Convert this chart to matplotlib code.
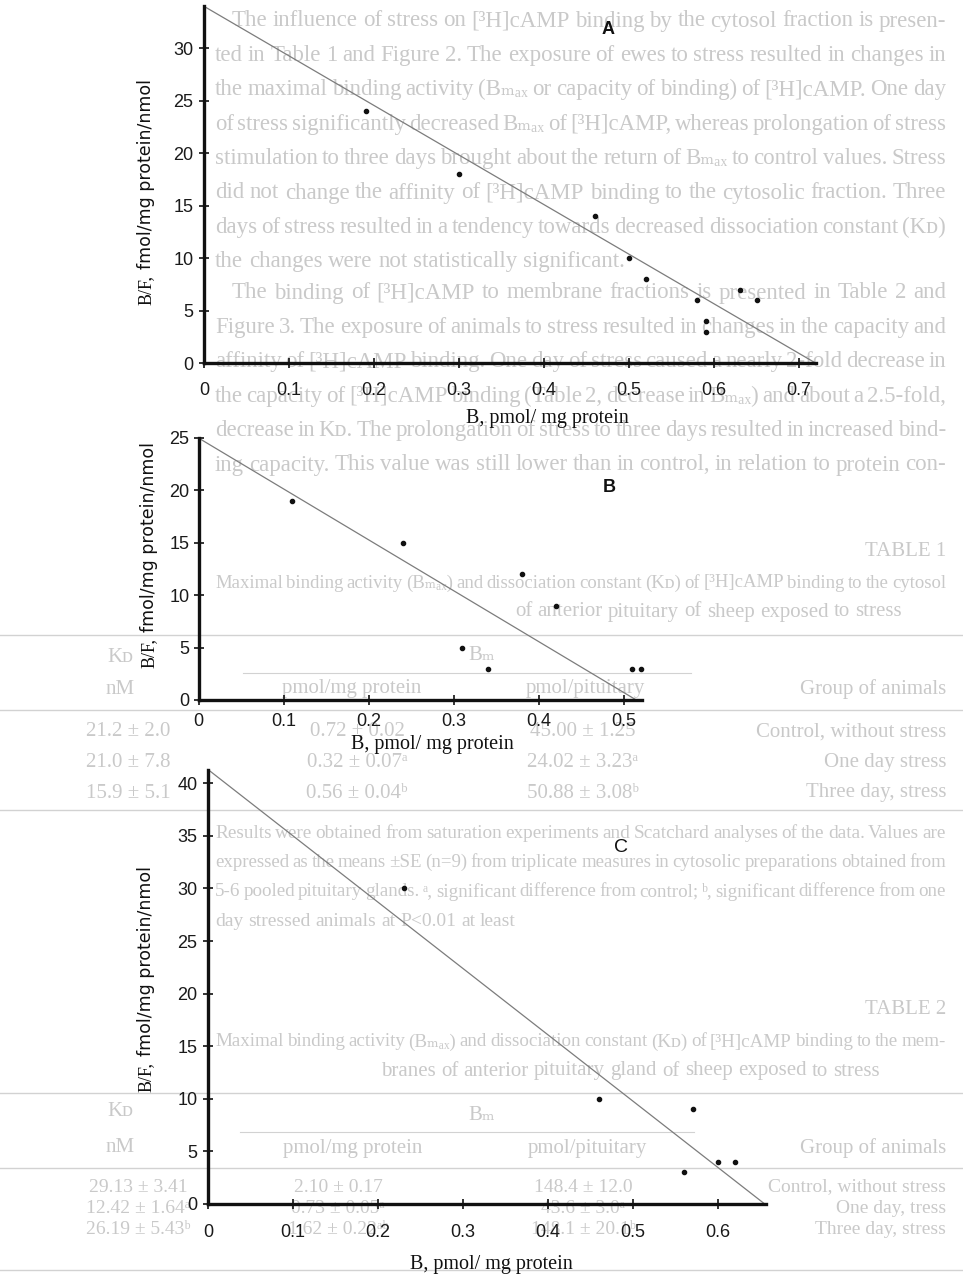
import matplotlib
matplotlib.use("Agg")
import matplotlib.pyplot as plt
from matplotlib.font_manager import FontProperties
from matplotlib.lines import Line2D

W, H = 963, 1280
SERIF = ['Liberation Serif', 'DejaVu Serif']
SANS = ['Liberation Sans', 'DejaVu Sans']
BG = '#c9c9c9'

# ---------------- data ----------------
# Panel A
A_B = [0.19, 0.30, 0.46, 0.50, 0.52, 0.58, 0.59, 0.59, 0.63, 0.65]
A_BF = [24, 18, 14, 10, 8, 6, 4, 3, 7, 6]
A_fit = (34.0, 0.72)          # (B/F intercept, Bmax)
A_xticks = [0, 0.1, 0.2, 0.3, 0.4, 0.5, 0.6, 0.7]
A_yticks = [0, 5, 10, 15, 20, 25, 30]
# Panel B
B_B = [0.11, 0.24, 0.31, 0.34, 0.38, 0.42, 0.51, 0.52]
B_BF = [19, 15, 5, 3, 12, 9, 3, 3]
B_fit = (25.0, 0.515)
B_xticks = [0, 0.1, 0.2, 0.3, 0.4, 0.5]
B_yticks = [0, 5, 10, 15, 20, 25]
# Panel C
C_B = [0.23, 0.46, 0.56, 0.57, 0.60, 0.62]
C_BF = [30, 10, 3, 9, 4, 4]
C_fit = (41.3, 0.655)
C_xticks = [0, 0.1, 0.2, 0.3, 0.4, 0.5, 0.6]
C_yticks = [0, 5, 10, 15, 20, 25, 30, 35, 40]

X_LABEL = "B, pmol/ mg protein"

# faded page text behind the figure
PARA1 = [
    "The influence of stress on [\u00b3H]cAMP binding by the cytosol fraction is presen-",
    "ted in Table 1 and Figure 2. The exposure of ewes to stress resulted in changes in",
    "the maximal binding activity (B\u2098\u2090\u2093 or capacity of binding) of [\u00b3H]cAMP. One day",
    "of stress significantly decreased B\u2098\u2090\u2093 of [\u00b3H]cAMP, whereas prolongation of stress",
    "stimulation to three days brought about the return of B\u2098\u2090\u2093 to control values. Stress",
    "did not change the affinity of [\u00b3H]cAMP binding to the cytosolic fraction. Three",
    "days of stress resulted in a tendency towards decreased dissociation constant (K\u1d05)",
    "the changes were not statistically significant.",
]
PARA2 = [
    "The binding of [\u00b3H]cAMP to membrane fractions is presented in Table 2 and",
    "Figure 3. The exposure of animals to stress resulted in changes in the capacity and",
    "affinity of [\u00b3H]cAMP binding. One day of stress caused a nearly 2-fold decrease in",
    "the capacity of [\u00b3H]cAMP binding (Table 2, decrease in B\u2098\u2090\u2093) and about a 2.5-fold,",
    "decrease in K\u1d05. The prolongation of stress to three days resulted in increased bind-",
    "ing capacity. This value was still lower than in control, in relation to protein con-",
]
T1_CAPTION = [
    "Maximal binding activity (B\u2098\u2090\u2093) and dissociation constant (K\u1d05) of [\u00b3H]cAMP binding to the cytosol",
    "of anterior pituitary of sheep exposed to stress",
]
T1_ROWS = ["Control, without stress", "One day stress", "Three day, stress"]
T1_PIT = ["45.00 \u00b1 1.25", "24.02 \u00b1 3.23\u1d43", "50.88 \u00b1 3.08\u1d47"]
T1_PROT = ["0.72 \u00b1 0.02", "0.32 \u00b1 0.07\u1d43", "0.56 \u00b1 0.04\u1d47"]
T1_KD = ["21.2 \u00b1 2.0", "21.0 \u00b1 7.8", "15.9 \u00b1 5.1"]
NOTES = [
    "Results were obtained from saturation experiments and Scatchard analyses of the data. Values are",
    "expressed as the means \u00b1SE (n=9) from triplicate measures in cytosolic preparations obtained from",
    "5-6 pooled pituitary glands. \u1d43, significant difference from control; \u1d47, significant difference from one",
    "day stressed animals at P<0.01 at least",
]
T2_CAPTION = [
    "Maximal binding activity (B\u2098\u2090\u2093) and dissociation constant (K\u1d05) of [\u00b3H]cAMP binding to the mem-",
    "branes of anterior pituitary gland of sheep exposed to stress",
]
T2_ROWS = ["Control, without stress", "One day, tress", "Three day, stress"]
T2_PIT = ["148.4 \u00b1 12.0", "43.6 \u00b1 3.0\u1d43", "148.1 \u00b1 20.1\u1d47"]
T2_PROT = ["2.10 \u00b1 0.17", "0.73 \u00b1 0.05\u1d43", "1.62 \u00b1 0.22\u1d43\u1d47"]
T2_KD = ["29.13 \u00b1 3.41", "12.42 \u00b1 1.64\u1d43", "26.19 \u00b1 5.43\u1d47"]

# ---------------- figure ----------------
fig = plt.figure(figsize=(W / 100, H / 100), dpi=100)
fig.patch.set_facecolor('white')
renderer = fig.canvas.get_renderer()


def fx(x):
    return x / W


def fy(y):
    return 1 - y / H


def measure(s, size, family=SERIF):
    fp = FontProperties(family=family, size=size)
    w, h, d = renderer.get_text_width_height_descent(s, fp, ismath=False)
    return w


def put_line(text, y, x0, x1, size=16.5, justify=True, align='left', color=BG):
    words = text.split(' ')
    widths = [measure(w, size) for w in words]
    space = measure('a a', size) - measure('aa', size)
    n = len(words)
    if justify and n > 1:
        gap = (x1 - x0 - sum(widths)) / (n - 1)
        if gap < 0.6 * space:
            size = size * (x1 - x0 - 0.6 * space * (n - 1)) / sum(widths)
            widths = [measure(w, size) for w in words]
            gap = (x1 - x0 - sum(widths)) / (n - 1)
    else:
        gap = space
    total = sum(widths) + gap * (n - 1)
    if align == 'right':
        x = x1 - total
    elif align == 'center':
        x = (x0 + x1) / 2 - total / 2
    else:
        x = x0
    for w, wd in zip(words, widths):
        fig.text(fx(x), fy(y), w, family=SERIF, fontsize=size, color=color,
                 ha='left', va='center', zorder=-2)
        x += wd + gap


def put(text, x, y, ha='left', size=15):
    fig.text(fx(x), fy(y), text, family=SERIF, fontsize=size, color=BG,
             ha=ha, va='center', zorder=-2)


def rule(y, x0=0, x1=W, lw=1.0):
    fig.add_artist(Line2D([fx(x0), fx(x1)], [fy(y), fy(y)], transform=fig.transFigure,
                          color='#d2d2d2', lw=lw, zorder=-2))


# paragraph 1
for i, line in enumerate(PARA1):
    y = 21 + 34.4 * i
    last = i == len(PARA1) - 1
    put_line(line, y, 232 if i == 0 else 215, 946, justify=not last)
for i, line in enumerate(PARA2):
    y = 293 + 34.4 * i
    put_line(line, y, 232 if i == 0 else 215, 946)

# table 1
put("TABLE 1", 946, 552, ha='right')
put_line(T1_CAPTION[0], 583, 215, 946, size=15)
put_line(T1_CAPTION[1], 612, 515, 946, size=15, justify=False)
rule(635)
put("K\u1d05", 120, 657, ha='center')
put("B\u2098", 482, 655, ha='center')
rule(673, 243, 691, lw=0.8)
put("Group of animals", 946, 689, ha='right')
put("pmol/pituitary", 585, 689, ha='center')
put("pmol/mg protein", 352, 689, ha='center')
put("nM", 120, 689, ha='center')
rule(710)
for i in range(3):
    y = 732 + 30.5 * i
    put(T1_ROWS[i], 946, y, ha='right')
    put(T1_PIT[i], 583, y, ha='center')
    put(T1_PROT[i], 357, y, ha='center')
    put(T1_KD[i], 128, y, ha='center')
rule(810)
for i, line in enumerate(NOTES):
    y = 833 + 29.5 * i
    put_line(line, y, 215, 946, size=14, justify=(i < 3))

# table 2
put("TABLE 2", 946, 1010, ha='right')
put_line(T2_CAPTION[0], 1042, 215, 946, size=15)
put_line(T2_CAPTION[1], 1071, 381, 946, size=15, justify=False)
rule(1093)
put("K\u1d05", 120, 1112, ha='center')
put("B\u2098", 482, 1115, ha='center')
rule(1132, 240, 694, lw=0.8)
put("Group of animals", 946, 1148, ha='right')
put("pmol/pituitary", 587, 1148, ha='center')
put("pmol/mg protein", 353, 1148, ha='center')
put("nM", 120, 1148, ha='center')
rule(1168)
for i in range(3):
    y = 1187 + 21.5 * i
    put(T2_ROWS[i], 946, y, ha='right', size=14)
    put(T2_PIT[i], 583, y, ha='center', size=14)
    put(T2_PROT[i], 338, y, ha='center', size=14)
    put(T2_KD[i], 138, y, ha='center', size=14)
rule(1270)


# ---------------- panels ----------------
def fmt(v):
    return "0" if v == 0 else ("%g" % v)


def panel(L, Bt, xscale, yscale, xmax, ymax, xticks, yticks, bx, bf, fit,
          xpad, ypad, letter, lpos, lbold, lsize, ylab, xlab):
    R = L + xmax * xscale
    T = Bt - ymax * yscale
    ax = fig.add_axes([fx(L), fy(Bt), (R - L) / W, (Bt - T) / H])
    ax.patch.set_alpha(0)
    ax.set_xlim(0, xmax)
    ax.set_ylim(0, ymax)
    for s in ('top', 'right'):
        ax.spines[s].set_visible(False)
    for s in ('left', 'bottom'):
        ax.spines[s].set_linewidth(2.4)
        ax.spines[s].set_color('#111111')
    ax.set_xticks(xticks)
    ax.set_xticklabels([fmt(v) for v in xticks])
    ax.set_yticks(yticks)
    ax.set_yticklabels([fmt(v) for v in yticks])
    ax.tick_params(direction='inout', length=7, width=1.2, color='#111111',
                   labelsize=13, labelcolor='#1a1a1a')
    ax.tick_params(axis='x', pad=xpad)
    ax.tick_params(axis='y', pad=ypad)
    for lab in ax.get_xticklabels() + ax.get_yticklabels():
        lab.set_family(SANS)
    b0, bmax = fit
    ax.plot([0, bmax], [b0, 0], color='#7c7c7c', lw=0.9, clip_on=False)
    ax.plot(bx, bf, 'o', ms=3.0, color='#111111', clip_on=False)
    # panel letter
    fig.text(fx(lpos[0]), fy(lpos[1]), letter, family=SANS, fontsize=lsize,
             fontweight='bold' if lbold else 'normal', ha='center', va='center',
             color='#111111')
    # y label (serif "B/F," + sans remainder), reading bottom to top
    xc, ybot = ylab
    xb = xc + 5
    fig.text(fx(xb), fy(ybot), "B/F,", family=SERIF, fontsize=13, rotation=90,
             rotation_mode='anchor', ha='left', va='baseline', color='#111111')
    w1 = measure("B/F,", 13)
    fig.text(fx(xb), fy(ybot - w1 - 6), "fmol/mg protein/nmol", family=['DejaVu Sans'],
             fontsize=12.5, rotation=90, rotation_mode='anchor', ha='left',
             va='baseline', color='#111111')
    # x label
    fig.text(fx(xlab[0]), fy(xlab[1]), X_LABEL, family=SERIF, fontsize=14.5,
             ha='center', va='center', color='#111111')
    return ax


panel(204, 363.3, 850, 10.5, 0.72, 34.0, A_xticks, A_yticks, A_B, A_BF, A_fit,
      xpad=10, ypad=4, letter='A', lpos=(608, 30), lbold=True, lsize=13,
      ylab=(146, 305), xlab=(547, 418))
panel(198.5, 700, 850, 10.48, 0.522, 25.0, B_xticks, B_yticks, B_B, B_BF, B_fit,
      xpad=6, ypad=3, letter='B', lpos=(609, 488), lbold=True, lsize=13,
      ylab=(149, 668), xlab=(432, 745))
panel(208, 1204, 850, 10.52, 0.656, 41.3, C_xticks, C_yticks, C_B, C_BF, C_fit,
      xpad=11, ypad=4, letter='C', lpos=(621, 848), lbold=False, lsize=14,
      ylab=(146, 1092), xlab=(491, 1265))

fig.savefig("out.png", dpi=100, facecolor='white')
